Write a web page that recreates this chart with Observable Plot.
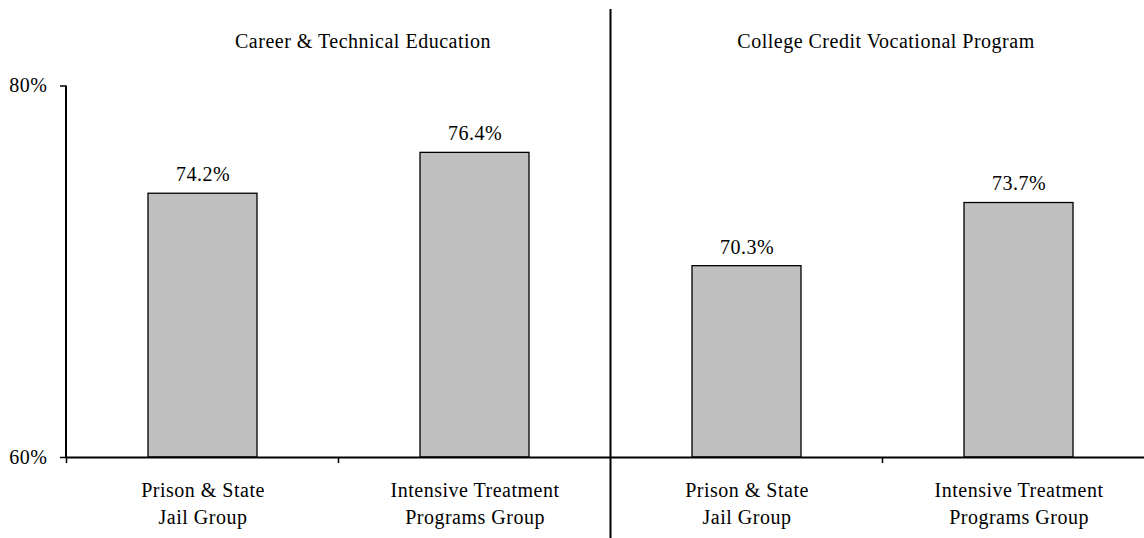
<!DOCTYPE html>
<html>
<head>
<meta charset="utf-8">
<script src="https://cdn.jsdelivr.net/npm/d3@7"></script>
<script src="https://cdn.jsdelivr.net/npm/@observablehq/plot@0.6"></script>
<style>
  body { margin: 0; background: #fff; }
  svg { display: block; }
</style>
</head>
<body>
<div id="chart"></div>
<script>
const programs = ["Career & Technical Education", "College Credit Vocational Program"];
const groups = ["Prison & State\nJail Group", "Intensive Treatment\nPrograms Group"];
const careerValues = [74.2, 76.4];
const collegeValues = [70.3, 73.7];
const yTicks = [60, 80];

const seriesValues = [careerValues, collegeValues];
const data = programs.flatMap((p, i) => groups.map((g, j) => ({
  program: p, group: g, key: p + "|" + g, value: seriesValues[i][j]
})));
const keys = data.map(d => d.key);
const firstKeys = programs.map(p => data.find(d => d.program === p).key);

function decorations(index, scales, values, dims) {
  const {x, y} = scales;
  const step = x.step(), bw = x.bandwidth();
  const g = d3.create("svg:g").attr("stroke", "#000").attr("fill", "none");
  const y0 = y(yTicks[0]);
  // y axis line
  g.append("line").attr("x1", dims.marginLeft).attr("x2", dims.marginLeft)
    .attr("y1", y(yTicks[1])).attr("y2", y0).attr("stroke-width", 2);
  // band boundary ticks and panel divider
  keys.forEach((k, i) => {
    const bx = x(k) + bw / 2 - step / 2;
    const newPanel = i > 0 && data[i].program !== data[i - 1].program;
    if (newPanel) {
      g.append("line").attr("x1", bx).attr("x2", bx)
        .attr("y1", 9).attr("y2", dims.height).attr("stroke-width", 2);
    } else {
      g.append("line").attr("x1", bx).attr("x2", bx)
        .attr("y1", y0).attr("y2", y0 + 6).attr("stroke-width", 1.5);
    }
  });
  return g.node();
}

const chart = Plot.plot({
  width: 1144,
  height: 538,
  marginLeft: 66,
  marginRight: -10,
  marginTop: 85.5,
  marginBottom: 81,
  style: {fontFamily: "'Liberation Serif', 'Times New Roman', serif", fontSize: "20px", letterSpacing: "0.5px", color: "#000", background: "#fff"},
  x: {domain: keys, paddingInner: 0.6, paddingOuter: 0.3, axis: null},
  y: {domain: [yTicks[0], yTicks[1]], axis: null},
  marks: [
    Plot.barY(data, {x: "key", y1: yTicks[0], y2: "value", fill: "#c0c0c0", stroke: "#000", strokeWidth: 1.3}),
    Plot.text(data, {x: "key", y: "value", text: d => d.value.toFixed(1) + "%", dy: -19, fill: "#000"}),
    Plot.text(data, {x: "key", text: "group", frameAnchor: "bottom", lineAnchor: "top", dy: 20, lineHeight: 1.35, fill: "#000"}),
    Plot.text([programs[0]], {x: () => firstKeys[0], text: d => d, frameAnchor: "top", dy: -52, dx: 160, fill: "#000"}),
    Plot.text([programs[1]], {x: () => firstKeys[1], text: d => d, frameAnchor: "top", dy: -52, dx: 139, fill: "#000"}),
    Plot.axisY({ticks: yTicks, tickFormat: d => d + "%", tickSize: 6, tickPadding: 13, strokeWidth: 1.5, fill: "#000", label: null}),
    Plot.ruleY([yTicks[0]], {stroke: "#000", strokeWidth: 2}),
    decorations
  ]
});
document.getElementById("chart").appendChild(chart);
</script>
</body>
</html>
